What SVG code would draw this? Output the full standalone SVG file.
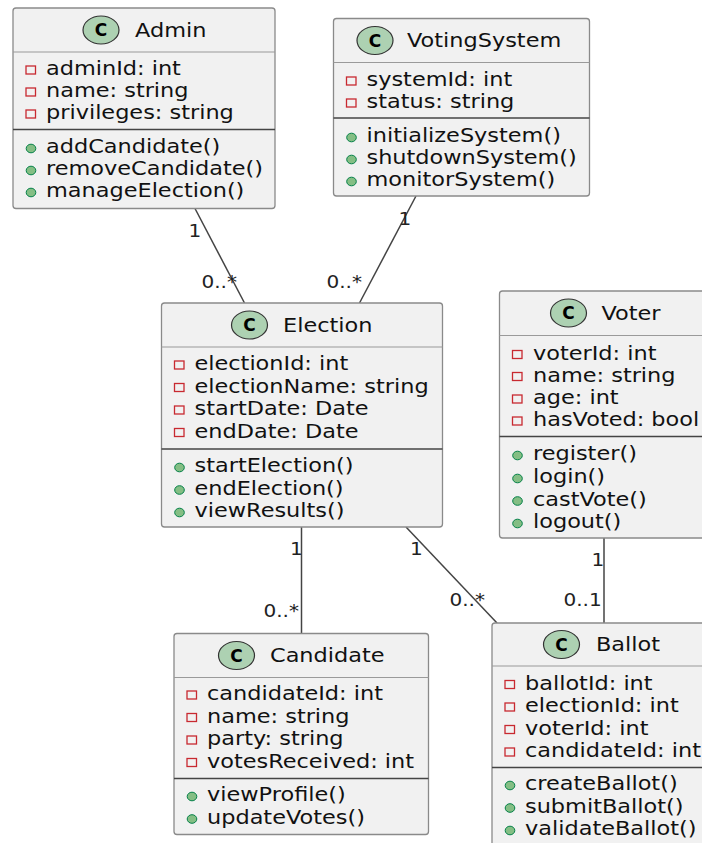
<svg xmlns="http://www.w3.org/2000/svg" width="702" height="843" viewBox="0 0 702 843">
  <style>
    .box { fill: #F1F1F1; stroke: #8a8a8a; stroke-width: 1.3; }
    .hsep { stroke: #9a9a9a; stroke-width: 1.2; }
    .msep { stroke: #444; stroke-width: 1.4; }
    .t { font-family: "DejaVu Sans", "Noto Sans", sans-serif; font-size: 19px; fill: #111; }
    .lb { font-family: "DejaVu Sans", "Noto Sans", sans-serif; font-size: 17px; fill: #222; }
    .ci { fill: #ADD1B2; stroke: #333; stroke-width: 1.2; }
    .cl { font-family: "DejaVu Sans", sans-serif; font-weight: bold; font-size: 17px; fill: #000; text-anchor: middle; }
    .priv { fill: none; stroke: #C82930; stroke-width: 1.3; }
    .pub { fill: #84BE84; stroke: #038048; stroke-width: 1; }
    .edge { stroke: #444; stroke-width: 1.5; fill: none; }
  </style>

  <!-- associations -->
  <g id="connectors">
    <line class="edge" x1="195" y1="208.5" x2="244.5" y2="303"/>
    <line class="edge" x1="416" y1="196" x2="359.5" y2="303"/>
    <line class="edge" x1="301.5" y1="527" x2="301.5" y2="633.5"/>
    <line class="edge" x1="406" y1="527" x2="497" y2="623"/>
    <line class="edge" x1="604" y1="538" x2="604" y2="623"/>
    <text class="lb" transform="matrix(1.18 0 0 1 188.5 236.5)">1</text>
    <text class="lb" transform="matrix(1.18 0 0 1 201.5 288)">0..*</text>
    <text class="lb" transform="matrix(1.18 0 0 1 398.5 225)">1</text>
    <text class="lb" transform="matrix(1.18 0 0 1 326.5 288)">0..*</text>
    <text class="lb" transform="matrix(1.18 0 0 1 290 555)">1</text>
    <text class="lb" transform="matrix(1.18 0 0 1 263.5 617)">0..*</text>
    <text class="lb" transform="matrix(1.18 0 0 1 410 555)">1</text>
    <text class="lb" transform="matrix(1.18 0 0 1 449.5 606)">0..*</text>
    <text class="lb" transform="matrix(1.18 0 0 1 591.5 566)">1</text>
    <text class="lb" transform="matrix(1.18 0 0 1 563.5 606)">0..1</text>
  </g>

  <!-- Admin -->
  <g id="Admin">
    <rect class="box" x="13" y="8" width="262" height="200.5" rx="3"/>
    <ellipse class="ci" cx="101" cy="30" rx="18" ry="14"/>
    <text class="cl" x="101" y="36">C</text>
    <text class="t" transform="matrix(1.18 0 0 1 135 37)">Admin</text>
    <line class="hsep" x1="13" y1="52" x2="275" y2="52"/>
    <rect class="priv" x="26" y="66" width="9.5" height="8"/>
    <text class="t" transform="matrix(1.18 0 0 1 46 75)">adminId: int</text>
    <rect class="priv" x="26" y="88" width="9.5" height="8"/>
    <text class="t" transform="matrix(1.18 0 0 1 46 97)">name: string</text>
    <rect class="priv" x="26" y="110" width="9.5" height="8"/>
    <text class="t" transform="matrix(1.18 0 0 1 46 119)">privileges: string</text>
    <line class="msep" x1="13" y1="129.5" x2="275" y2="129.5"/>
    <ellipse class="pub" cx="31" cy="148.5" rx="4.8" ry="4.3"/>
    <text class="t" transform="matrix(1.18 0 0 1 46 153)">addCandidate()</text>
    <ellipse class="pub" cx="31" cy="170.5" rx="4.8" ry="4.3"/>
    <text class="t" transform="matrix(1.18 0 0 1 46 175)">removeCandidate()</text>
    <ellipse class="pub" cx="31" cy="192.5" rx="4.8" ry="4.3"/>
    <text class="t" transform="matrix(1.18 0 0 1 46 197)">manageElection()</text>
  </g>

  <!-- VotingSystem -->
  <g id="VotingSystem">
    <rect class="box" x="333.5" y="18.5" width="256" height="177.5" rx="3"/>
    <ellipse class="ci" cx="375" cy="40.5" rx="18" ry="14"/>
    <text class="cl" x="375" y="46.5">C</text>
    <text class="t" transform="matrix(1.18 0 0 1 407 47)">VotingSystem</text>
    <line class="hsep" x1="333.5" y1="62.5" x2="589.5" y2="62.5"/>
    <rect class="priv" x="346.5" y="77" width="9.5" height="8"/>
    <text class="t" transform="matrix(1.18 0 0 1 366.5 86)">systemId: int</text>
    <rect class="priv" x="346.5" y="99" width="9.5" height="8"/>
    <text class="t" transform="matrix(1.18 0 0 1 366.5 108)">status: string</text>
    <line class="msep" x1="333.5" y1="118" x2="589.5" y2="118"/>
    <ellipse class="pub" cx="351.5" cy="137.5" rx="4.8" ry="4.3"/>
    <text class="t" transform="matrix(1.18 0 0 1 366.5 142)">initializeSystem()</text>
    <ellipse class="pub" cx="351.5" cy="159.5" rx="4.8" ry="4.3"/>
    <text class="t" transform="matrix(1.18 0 0 1 366.5 164)">shutdownSystem()</text>
    <ellipse class="pub" cx="351.5" cy="181.5" rx="4.8" ry="4.3"/>
    <text class="t" transform="matrix(1.18 0 0 1 366.5 186)">monitorSystem()</text>
  </g>

  <!-- Election -->
  <g id="Election">
    <rect class="box" x="161.5" y="303" width="281" height="224" rx="3"/>
    <ellipse class="ci" cx="249.5" cy="325" rx="18" ry="14"/>
    <text class="cl" x="249.5" y="331">C</text>
    <text class="t" transform="matrix(1.18 0 0 1 283 332)">Election</text>
    <line class="hsep" x1="161.5" y1="347" x2="442.5" y2="347"/>
    <rect class="priv" x="174.5" y="361" width="9.5" height="8"/>
    <text class="t" transform="matrix(1.18 0 0 1 194.5 370)">electionId: int</text>
    <rect class="priv" x="174.5" y="383.5" width="9.5" height="8"/>
    <text class="t" transform="matrix(1.18 0 0 1 194.5 392.5)">electionName: string</text>
    <rect class="priv" x="174.5" y="406" width="9.5" height="8"/>
    <text class="t" transform="matrix(1.18 0 0 1 194.5 415)">startDate: Date</text>
    <rect class="priv" x="174.5" y="428.5" width="9.5" height="8"/>
    <text class="t" transform="matrix(1.18 0 0 1 194.5 437.5)">endDate: Date</text>
    <line class="msep" x1="161.5" y1="449" x2="442.5" y2="449"/>
    <ellipse class="pub" cx="179.5" cy="467.5" rx="4.8" ry="4.3"/>
    <text class="t" transform="matrix(1.18 0 0 1 194.5 472)">startElection()</text>
    <ellipse class="pub" cx="179.5" cy="490" rx="4.8" ry="4.3"/>
    <text class="t" transform="matrix(1.18 0 0 1 194.5 494.5)">endElection()</text>
    <ellipse class="pub" cx="179.5" cy="512.5" rx="4.8" ry="4.3"/>
    <text class="t" transform="matrix(1.18 0 0 1 194.5 517)">viewResults()</text>
  </g>

  <!-- Voter -->
  <g id="Voter">
    <rect class="box" x="499.5" y="291" width="240" height="247" rx="3"/>
    <ellipse class="ci" cx="568.5" cy="313" rx="18" ry="14"/>
    <text class="cl" x="568.5" y="319">C</text>
    <text class="t" transform="matrix(1.18 0 0 1 601.5 320)">Voter</text>
    <line class="hsep" x1="499.5" y1="335.5" x2="702" y2="335.5"/>
    <rect class="priv" x="512.5" y="350.5" width="9.5" height="8"/>
    <text class="t" transform="matrix(1.18 0 0 1 533 359.5)">voterId: int</text>
    <rect class="priv" x="512.5" y="372.5" width="9.5" height="8"/>
    <text class="t" transform="matrix(1.18 0 0 1 533 381.5)">name: string</text>
    <rect class="priv" x="512.5" y="395" width="9.5" height="8"/>
    <text class="t" transform="matrix(1.18 0 0 1 533 404)">age: int</text>
    <rect class="priv" x="512.5" y="417" width="9.5" height="8"/>
    <text class="t" transform="matrix(1.18 0 0 1 533 426)">hasVoted: bool</text>
    <line class="msep" x1="499.5" y1="436.5" x2="702" y2="436.5"/>
    <ellipse class="pub" cx="517.5" cy="455.5" rx="4.8" ry="4.3"/>
    <text class="t" transform="matrix(1.18 0 0 1 533 460)">register()</text>
    <ellipse class="pub" cx="517.5" cy="478.5" rx="4.8" ry="4.3"/>
    <text class="t" transform="matrix(1.18 0 0 1 533 483)">login()</text>
    <ellipse class="pub" cx="517.5" cy="501" rx="4.8" ry="4.3"/>
    <text class="t" transform="matrix(1.18 0 0 1 533 505.5)">castVote()</text>
    <ellipse class="pub" cx="517.5" cy="523.5" rx="4.8" ry="4.3"/>
    <text class="t" transform="matrix(1.18 0 0 1 533 528)">logout()</text>
  </g>

  <!-- Candidate -->
  <g id="Candidate">
    <rect class="box" x="174" y="633.5" width="254.5" height="201" rx="3"/>
    <ellipse class="ci" cx="236.5" cy="655.5" rx="18" ry="14"/>
    <text class="cl" x="236.5" y="661.5">C</text>
    <text class="t" transform="matrix(1.18 0 0 1 270 662)">Candidate</text>
    <line class="hsep" x1="174" y1="677.5" x2="428.5" y2="677.5"/>
    <rect class="priv" x="187" y="691" width="9.5" height="8"/>
    <text class="t" transform="matrix(1.18 0 0 1 207 700)">candidateId: int</text>
    <rect class="priv" x="187" y="713.5" width="9.5" height="8"/>
    <text class="t" transform="matrix(1.18 0 0 1 207 722.5)">name: string</text>
    <rect class="priv" x="187" y="736" width="9.5" height="8"/>
    <text class="t" transform="matrix(1.18 0 0 1 207 745)">party: string</text>
    <rect class="priv" x="187" y="758.5" width="9.5" height="8"/>
    <text class="t" transform="matrix(1.18 0 0 1 207 767.5)">votesReceived: int</text>
    <line class="msep" x1="174" y1="778.5" x2="428.5" y2="778.5"/>
    <ellipse class="pub" cx="192" cy="796.5" rx="4.8" ry="4.3"/>
    <text class="t" transform="matrix(1.18 0 0 1 207 801)">viewProfile()</text>
    <ellipse class="pub" cx="192" cy="819" rx="4.8" ry="4.3"/>
    <text class="t" transform="matrix(1.18 0 0 1 207 823.5)">updateVotes()</text>
  </g>

  <!-- Ballot -->
  <g id="Ballot">
    <rect class="box" x="492" y="623" width="240" height="240" rx="3"/>
    <ellipse class="ci" cx="561.5" cy="644.5" rx="18" ry="14"/>
    <text class="cl" x="561.5" y="650.5">C</text>
    <text class="t" transform="matrix(1.18 0 0 1 596 651)">Ballot</text>
    <line class="hsep" x1="492" y1="666" x2="702" y2="666"/>
    <rect class="priv" x="505" y="680.5" width="9.5" height="8"/>
    <text class="t" transform="matrix(1.18 0 0 1 525 689.5)">ballotId: int</text>
    <rect class="priv" x="505" y="703" width="9.5" height="8"/>
    <text class="t" transform="matrix(1.18 0 0 1 525 712)">electionId: int</text>
    <rect class="priv" x="505" y="725.5" width="9.5" height="8"/>
    <text class="t" transform="matrix(1.18 0 0 1 525 734.5)">voterId: int</text>
    <rect class="priv" x="505" y="748" width="9.5" height="8"/>
    <text class="t" transform="matrix(1.18 0 0 1 525 757)">candidateId: int</text>
    <line class="msep" x1="492" y1="767.5" x2="702" y2="767.5"/>
    <ellipse class="pub" cx="510" cy="785.5" rx="4.8" ry="4.3"/>
    <text class="t" transform="matrix(1.18 0 0 1 525 790)">createBallot()</text>
    <ellipse class="pub" cx="510" cy="808" rx="4.8" ry="4.3"/>
    <text class="t" transform="matrix(1.18 0 0 1 525 812.5)">submitBallot()</text>
    <ellipse class="pub" cx="510" cy="830.5" rx="4.8" ry="4.3"/>
    <text class="t" transform="matrix(1.18 0 0 1 525 835)">validateBallot()</text>
  </g>
</svg>
